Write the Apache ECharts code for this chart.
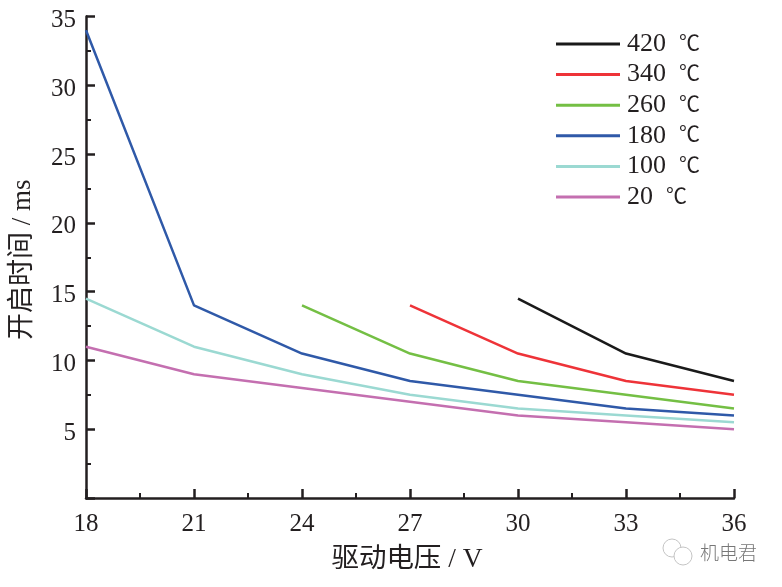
<!DOCTYPE html>
<html>
<head>
<meta charset="utf-8">
<style>
  html, body { margin: 0; padding: 0; background: #fff; }
  #chart { width: 782px; height: 587px; }
</style>
<script src="https://cdn.jsdelivr.net/npm/echarts@6/dist/echarts.min.js"></script>
</head>
<body>
<div id="chart"></div>
<script>
const FONT = '"Liberation Serif", "Noto Sans CJK SC", serif'
const INK = '#231f20'

// values, [drive voltage, opening time]
const t420 = [[30, 14.5], [33, 10.5], [36, 8.5]]
const t340 = [[27, 14], [30, 10.5], [33, 8.5], [36, 7.5]]
const t260 = [[24, 14], [27, 10.5], [30, 8.5], [33, 7.5], [36, 6.5]]
const t180 = [[18, 34], [21, 14], [24, 10.5], [27, 8.5], [30, 7.5], [33, 6.5], [36, 6]]
const t100 = [[18, 14.5], [21, 11], [24, 9], [27, 7.5], [30, 6.5], [33, 6], [36, 5.5]]
const t20 = [[18, 11], [21, 9], [24, 8], [27, 7], [30, 6], [33, 5.5], [36, 5]]

const seriesNames = ['420 ℃', '340 ℃', '260 ℃', '180 ℃', '100 ℃', '20 ℃']
const seriesData = [t420, t340, t260, t180, t100, t20]
const seriesColors = ['#1a1a1a', '#ee3338', '#74bf44', '#2f59a8', '#9bd9d2', '#c46fb0']

const chart = echarts.init(document.getElementById('chart'))

chart.setOption({
  animation: false,
  textStyle: { fontFamily: FONT },
  grid: { left: 86, top: 16.5, width: 648, height: 481.5, outerBoundsMode: 'none' },
  legend: {
    orient: 'vertical',
    left: 551,
    top: 26,
    itemWidth: 64,
    itemHeight: 3,
    itemGap: 4.6,
    icon: 'rect',
    data: seriesNames,
    formatter: name => {
      const parts = name.split(' ')
      return '{num|' + parts[0] + '  }{unit|' + parts[1] + '}'
    },
    textStyle: {
      color: INK,
      padding: [0, 0, 0, 2],
      rich: {
        num: { fontFamily: FONT, fontSize: 26, color: INK, height: 25 },
        unit: { fontFamily: FONT, fontSize: 21, color: INK, height: 25 }
      }
    }
  },
  xAxis: {
    type: 'value',
    min: 18,
    max: 36,
    interval: 3,
    name: '驱动电压 / V',
    nameLocation: 'middle',
    nameGap: 48,
    nameTextStyle: { fontFamily: FONT, fontSize: 27.5, color: INK, padding: [0, 6, 0, 0] },
    axisLine: { show: true, lineStyle: { color: INK, width: 2.5 } },
    axisTick: { show: true, inside: true, length: 9, lineStyle: { color: INK, width: 2.5 } },
    minorTick: { show: true, splitNumber: 2, length: 5, lineStyle: { color: INK, width: 2 } },
    axisLabel: { fontFamily: FONT, fontSize: 25, color: INK, margin: 14 },
    splitLine: { show: false }
  },
  yAxis: {
    type: 'value',
    min: 0,
    max: 35,
    interval: 5,
    name: '开启时间 / ms',
    nameLocation: 'middle',
    nameGap: 50,
    nameRotate: 90,
    nameTextStyle: { fontFamily: FONT, fontSize: 27, color: INK, padding: [0, 5, 0, 0] },
    axisLine: { show: true, lineStyle: { color: INK, width: 2.5 } },
    axisTick: { show: true, inside: true, length: 9, lineStyle: { color: INK, width: 2.5 } },
    minorTick: { show: true, splitNumber: 2, length: 5, lineStyle: { color: INK, width: 2 } },
    axisLabel: {
      fontFamily: FONT,
      fontSize: 25,
      color: INK,
      margin: 10,
      verticalAlign: 'top',
      lineHeight: 8,
      formatter: v => (v === 0 ? '' : String(v))
    },
    splitLine: { show: false }
  },
  series: seriesNames.map((name, i) => ({
    name,
    type: 'line',
    data: seriesData[i],
    symbol: 'none',
    clip: false,
    itemStyle: { color: seriesColors[i] },
    lineStyle: { color: seriesColors[i], width: 2.5 }
  })),
  // watermark, bottom right
  graphic: [
    { type: 'circle', shape: { cx: 672, cy: 548, r: 9 }, style: { fill: 'none', stroke: '#c4c4c4', lineWidth: 1 } },
    { type: 'circle', shape: { cx: 683, cy: 556, r: 9 }, style: { fill: '#fff', stroke: '#c4c4c4', lineWidth: 1 } },
    {
      type: 'text',
      left: 700,
      top: 543,
      style: { text: '机电君', fontFamily: '"Noto Sans CJK SC", sans-serif', fontSize: 19, fontWeight: 300, fill: '#777' }
    }
  ]
})
</script>
</body>
</html>
